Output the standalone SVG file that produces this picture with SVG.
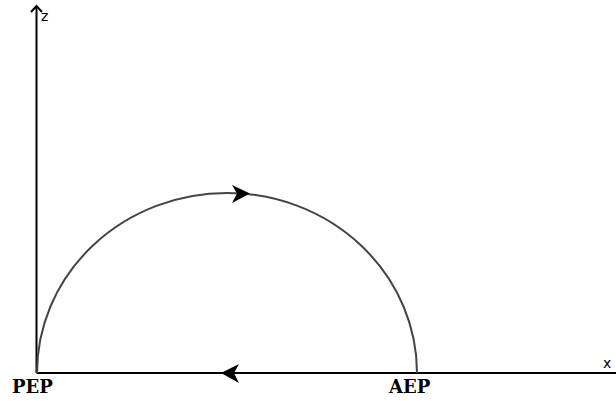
<svg xmlns="http://www.w3.org/2000/svg" width="616" height="401" viewBox="0 0 616 401">
<style>
.axis{stroke:#000;stroke-width:2;fill:none}
.arc{stroke:#444;stroke-width:2;fill:none}
.lbl{font-family:"DejaVu Sans",sans-serif;font-size:14px;fill:#000}
.pt{font-family:"DejaVu Serif","Liberation Serif",serif;font-weight:bold;font-size:18px;fill:#000}
</style>
<g id="connectors">
<path class="axis" d="M36.5,373 V6"/>
<path class="axis" d="M31,12 L36.5,6 L42,12"/>
<path class="axis" d="M36.5,373 H616"/>
<path class="arc" d="M37,373 A190,180 0 0 1 417,373"/>
<path d="M232,185 L250,193.5 L232,203 L237,193.5 Z" fill="#000"/>
<path d="M221,373 L239,364 L234,373 L239,383 Z" fill="#000"/>
</g>
<g id="z"><text class="lbl" x="41" y="21">z</text></g>
<g id="x"><text class="lbl" x="603" y="368">x</text></g>
<g id="PEP"><text class="pt" x="12" y="393">PEP</text></g>
<g id="AEP"><text class="pt" x="389" y="393">AEP</text></g>
</svg>
